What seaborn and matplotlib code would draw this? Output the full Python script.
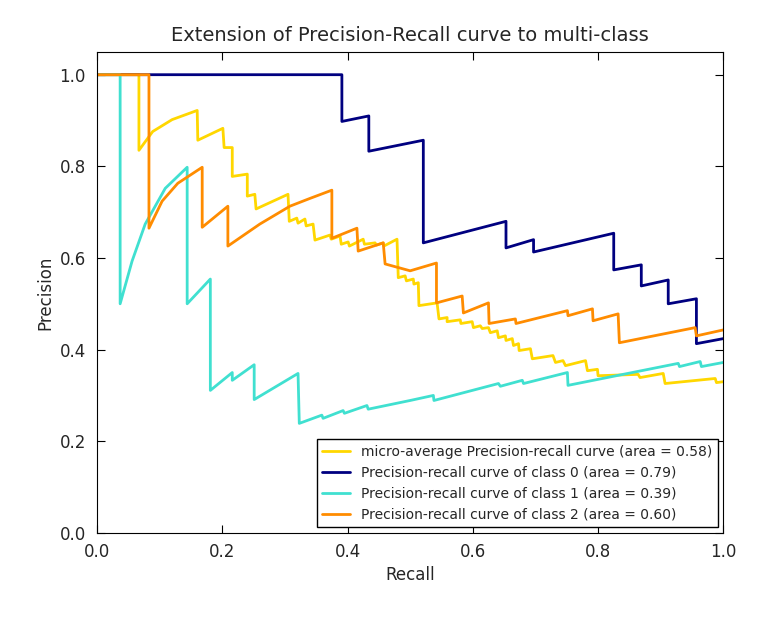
import seaborn as sns
import matplotlib
matplotlib.use("Agg")
import matplotlib.pyplot as plt

# values (recall, precision)
micro_recall = [0.000, 0.067, 0.067, 0.089, 0.120, 0.160, 0.161, 0.201, 0.203, 0.216,
                0.216, 0.240, 0.240, 0.252, 0.254, 0.305, 0.307, 0.319, 0.321, 0.332,
                0.334, 0.345, 0.348, 0.372, 0.374, 0.388, 0.390, 0.401, 0.403, 0.425,
                0.427, 0.444, 0.446, 0.457, 0.458, 0.479, 0.481, 0.492, 0.494, 0.505,
                0.506, 0.513, 0.514, 0.543, 0.546, 0.559, 0.559, 0.580, 0.581, 0.599,
                0.601, 0.612, 0.615, 0.625, 0.628, 0.639, 0.641, 0.652, 0.653, 0.663,
                0.665, 0.673, 0.674, 0.692, 0.695, 0.728, 0.732, 0.744, 0.748, 0.780,
                0.783, 0.799, 0.800, 0.864, 0.867, 0.904, 0.907, 0.987, 0.989, 1.000]
micro_precision = [1.000, 1.000, 0.835, 0.876, 0.902, 0.922, 0.857, 0.883, 0.841, 0.841,
                   0.778, 0.783, 0.735, 0.739, 0.707, 0.739, 0.680, 0.687, 0.676, 0.685,
                   0.670, 0.674, 0.639, 0.650, 0.641, 0.648, 0.630, 0.635, 0.626, 0.641,
                   0.630, 0.633, 0.628, 0.633, 0.626, 0.641, 0.557, 0.561, 0.550, 0.554,
                   0.543, 0.546, 0.496, 0.502, 0.467, 0.470, 0.461, 0.465, 0.457, 0.461,
                   0.448, 0.452, 0.446, 0.448, 0.437, 0.441, 0.426, 0.430, 0.420, 0.424,
                   0.409, 0.413, 0.398, 0.402, 0.380, 0.387, 0.372, 0.376, 0.365, 0.376,
                   0.354, 0.357, 0.343, 0.346, 0.339, 0.348, 0.326, 0.337, 0.328, 0.330]

c0_recall = [0.000, 0.391, 0.391, 0.434, 0.434, 0.521, 0.521, 0.653, 0.653, 0.697,
             0.697, 0.825, 0.825, 0.869, 0.869, 0.912, 0.912, 0.957, 0.957, 1.000]
c0_precision = [1.000, 1.000, 0.898, 0.910, 0.833, 0.857, 0.633, 0.680, 0.622, 0.640,
                0.613, 0.654, 0.574, 0.585, 0.539, 0.552, 0.500, 0.511, 0.413, 0.424]

c1_recall = [0.000, 0.037, 0.037, 0.056, 0.077, 0.109, 0.144, 0.144, 0.181, 0.181,
             0.216, 0.216, 0.251, 0.251, 0.321, 0.323, 0.359, 0.361, 0.393, 0.395,
             0.431, 0.433, 0.500, 0.537, 0.538, 0.641, 0.644, 0.679, 0.681, 0.751,
             0.752, 0.928, 0.930, 0.963, 0.965, 1.000]
c1_precision = [1.000, 1.000, 0.500, 0.593, 0.674, 0.752, 0.798, 0.500, 0.554, 0.311,
                0.350, 0.333, 0.367, 0.291, 0.348, 0.239, 0.257, 0.250, 0.267, 0.261,
                0.278, 0.270, 0.289, 0.300, 0.289, 0.326, 0.320, 0.333, 0.326, 0.350,
                0.322, 0.370, 0.363, 0.374, 0.363, 0.372]

c2_recall = [0.000, 0.083, 0.083, 0.104, 0.129, 0.168, 0.168, 0.209, 0.209, 0.260,
             0.308, 0.340, 0.375, 0.375, 0.415, 0.417, 0.457, 0.460, 0.500, 0.542,
             0.542, 0.583, 0.585, 0.625, 0.626, 0.668, 0.669, 0.751, 0.752, 0.791,
             0.792, 0.832, 0.834, 0.955, 0.957, 1.000]
c2_precision = [1.000, 1.000, 0.665, 0.724, 0.763, 0.798, 0.667, 0.713, 0.626, 0.674,
                0.713, 0.730, 0.748, 0.643, 0.665, 0.615, 0.633, 0.587, 0.572, 0.589,
                0.502, 0.517, 0.480, 0.502, 0.457, 0.467, 0.457, 0.485, 0.474, 0.489,
                0.463, 0.478, 0.415, 0.448, 0.430, 0.443]

labels = ["micro-average Precision-recall curve (area = 0.58)",
          "Precision-recall curve of class 0 (area = 0.79)",
          "Precision-recall curve of class 1 (area = 0.39)",
          "Precision-recall curve of class 2 (area = 0.60)"]
colors = ["gold", "navy", "turquoise", "darkorange"]

sns.set_style("ticks", {"xtick.direction": "in", "ytick.direction": "in",
                        "axes.edgecolor": "black"})
plt.rcParams["font.family"] = ["DejaVu Sans"]

fig, ax = plt.subplots(figsize=(7.82, 6.24), dpi=100)
fig.subplots_adjust(left=0.124, right=0.925, top=0.917, bottom=0.146)

curves = [(micro_recall, micro_precision), (c0_recall, c0_precision),
          (c1_recall, c1_precision), (c2_recall, c2_precision)]
for (r, p), lab, col in zip(curves, labels, colors):
    sns.lineplot(x=r, y=p, sort=False, estimator=None, color=col, lw=2,
                 label=lab, ax=ax)

ax.set_xlim(0.0, 1.0)
ax.set_ylim(0.0, 1.05)
ax.set_xticks([0.0, 0.2, 0.4, 0.6, 0.8, 1.0])
ax.set_yticks([0.0, 0.2, 0.4, 0.6, 0.8, 1.0])
ax.tick_params(top=True, right=True, labelsize=12, length=6, color="black")
ax.tick_params(axis="x", pad=7)
ax.tick_params(axis="y", pad=8)
ax.set_xlabel("Recall", fontsize=12, labelpad=4)
ax.set_ylabel("Precision", fontsize=12)
ax.set_title("Extension of Precision-Recall curve to multi-class", fontsize=14, pad=8)

leg = ax.legend(loc="lower right", fontsize=10, fancybox=False, framealpha=1,
                edgecolor="black", handlelength=2.0, borderaxespad=0.4)
leg.get_frame().set_linewidth(1.0)

fig.savefig("out.png", dpi=100)
